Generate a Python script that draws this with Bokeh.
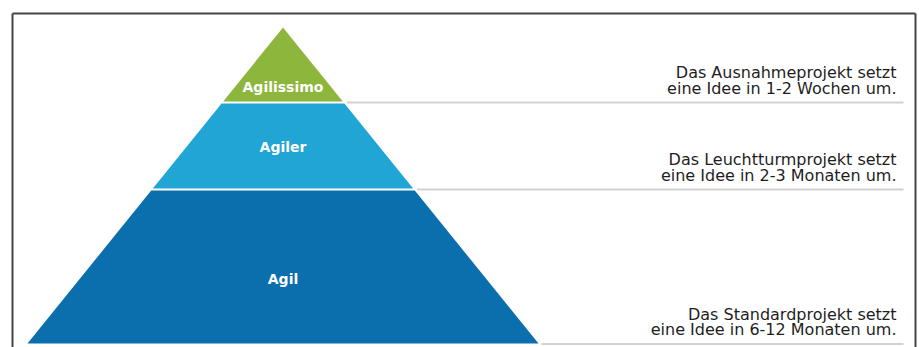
from bokeh.plotting import figure
from bokeh.models import ColumnDataSource, Range1d
from bokeh.embed import file_html
from bokeh.resources import INLINE
from bokeh.core.properties import value

# ---- data ----
levels = ["Agilissimo", "Agiler", "Agil"]
desc_line1 = ["Das Ausnahmeprojekt setzt",
              "Das Leuchtturmprojekt setzt",
              "Das Standardprojekt setzt"]
desc_line2 = ["eine Idee in 1-2 Wochen um.",
              "eine Idee in 2-3 Monaten um.",
              "eine Idee in 6-12 Monaten um."]
level_colors = ["#8db63c", "#21a5d4", "#0b6ead"]

# ---- layout (reference pixel space) ----
APEX_X, APEX_Y = 282.5, 27.0
BASE_Y, BASE_HALF = 343.0, 255.5
tier_top = [27.0, 103.0, 190.0]
tier_bottom = [101.0, 188.0, 343.0]
label_y = [86.0, 146.5, 278.5]
rule_y = [102.0, 189.0, 343.5]
TEXT_RIGHT = 896.0
RULE_RIGHT = 903.0
LINE1_OFF, LINE2_OFF = 30.0, 14.5
FRAME_L, FRAME_T, FRAME_R, FRAME_B = 12.0, 13.0, 915.0, 360.0


def half_width(y):
    return (y - APEX_Y) / (BASE_Y - APEX_Y) * BASE_HALF


xs, ys = [], []
for t, b in zip(tier_top, tier_bottom):
    ht, hb = half_width(t), half_width(b)
    xs.append([APEX_X - ht, APEX_X + ht, APEX_X + hb, APEX_X - hb])
    ys.append([t, t, b, b])

tiers = ColumnDataSource(dict(xs=xs, ys=ys, color=level_colors))
labels = ColumnDataSource(dict(x=[APEX_X] * len(levels), y=label_y, text=levels))
rules = ColumnDataSource(dict(
    x0=[APEX_X + half_width(min(y, BASE_Y)) + 3 for y in rule_y],
    x1=[RULE_RIGHT] * len(rule_y), y=rule_y))
desc = ColumnDataSource(dict(
    x=[TEXT_RIGHT] * (2 * len(levels)),
    y=[y - LINE1_OFF for y in rule_y] + [y - LINE2_OFF for y in rule_y],
    text=desc_line1 + desc_line2))

p = figure(width=919, height=347, output_backend="svg", toolbar_location=None,
           x_range=Range1d(0, 919), y_range=Range1d(347, 0),
           min_border=0)
p.axis.visible = False
p.grid.visible = False
p.outline_line_color = None
p.background_fill_color = "white"
p.border_fill_color = "white"

# frame
p.segment(x0=[FRAME_L, FRAME_L, FRAME_R], y0=[FRAME_B, FRAME_T, FRAME_T],
          x1=[FRAME_L, FRAME_R, FRAME_R], y1=[FRAME_T, FRAME_T, FRAME_B],
          line_color="#454545", line_width=2)

p.patches("xs", "ys", source=tiers, fill_color="color", line_color=None)
p.segment(x0="x0", y0="y", x1="x1", y1="y", source=rules,
          line_color="#d2d2d2", line_width=2)

p.text("x", "y", text="text", source=labels, text_color="white",
       text_font=value("DejaVu Sans"), text_font_style="bold",
       text_font_size="14px", text_align="center", text_baseline="middle")
p.text("x", "y", text="text", source=desc, text_color="#1e1e1e",
       text_font=value("DejaVu Sans"), text_font_size="16px",
       text_align="right", text_baseline="alphabetic")

open("out.html", "w").write(file_html(p, INLINE))
